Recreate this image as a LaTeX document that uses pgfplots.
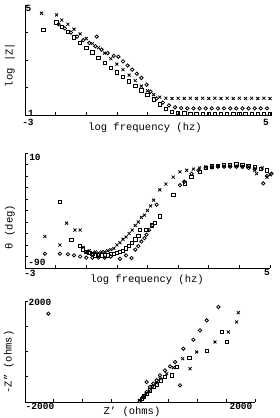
\documentclass[border=0pt]{standalone}
\usepackage{pgfplots}
\pgfplotsset{compat=1.18}
\usepackage{fontspec}
\setmainfont{Liberation Mono}
\newcommand{\lab}{\fontsize{10.5}{12}\selectfont}
\newcommand{\tl}{\fontsize{9.5}{11}\selectfont\bfseries}
\pgfplotsset{
  myax/.style={scale only axis, axis lines=left, axis line style={-, line width=0.8pt},
    tick align=inside, major tick length=3pt, tick style={line width=0.6pt, black},
    xticklabels={}, yticklabels={}, scaled ticks=false, clip=false, anchor=south west},
  sX/.style={only marks, mark=x, mark size=2.1pt, black, mark options={line width=0.8pt}},
  sO/.style={only marks, mark=o, mark size=1.7pt, black, mark options={line width=0.8pt}},
  sS/.style={only marks, mark=square, mark size=1.7pt, black, mark options={line width=0.8pt}},
}
\begin{document}
\begin{tikzpicture}
\useasboundingbox (0pt,0pt) rectangle (280pt,418pt);
% ---------- Panel 1: log |Z| ----------
\begin{axis}[myax, at={(25pt,303pt)}, width=245pt, height=110pt,
  xmin=-3, xmax=5, ymin=1, ymax=5, xtick={-3,...,5}, ytick={1,...,5}]
\addplot[sX] coordinates {(-2.46,4.70)(-1.97,4.64)(-1.8,4.45)(-1.6,4.3)(-1.4,4.12)(-1.2,3.95)(-1.0,3.78)(-0.8,3.6)(-0.6,3.45)(-0.4,3.25)(-0.2,3.05)(0,2.85)(0.2,2.65)(0.4,2.45)(0.6,2.25)(0.8,2.05)(1.0,1.88)(1.2,1.74)(1.4,1.65)(1.6,1.61)(1.8,1.6)(2.0,1.61)(2.2,1.6)(2.4,1.61)(2.6,1.6)(2.8,1.61)(3.0,1.6)(3.2,1.61)(3.4,1.6)(3.6,1.61)(3.8,1.6)(4.0,1.61)(4.2,1.6)(4.4,1.61)(4.6,1.6)(4.8,1.61)(5.0,1.6)};
\addplot[sO] coordinates {(-1.9,4.3)(-1.7,4.15)(-1.5,4.0)(-1.3,3.85)(-1.1,3.72)(-0.9,3.62)(-0.66,3.85)(-0.7,3.5)(-0.5,3.38)(-0.3,3.25)(-0.1,3.15)(0.05,3.12)(0.2,2.95)(0.35,2.8)(0.5,2.65)(0.65,2.5)(0.8,2.35)(0.97,2.1)(1.1,1.85)(1.3,1.6)(1.5,1.45)(1.7,1.35)(1.9,1.28)(2.1,1.25)(2.3,1.24)(2.5,1.24)(2.7,1.24)(2.9,1.24)(3.1,1.24)(3.3,1.24)(3.5,1.24)(3.7,1.24)(3.9,1.24)(4.1,1.24)(4.3,1.24)(4.5,1.24)(4.7,1.24)(4.9,1.24)};
\addplot[sS] coordinates {(-2.4,4.09)(-1.97,4.36)(-1.8,4.2)(-1.6,4.02)(-1.4,3.82)(-1.2,3.62)(-1.0,3.45)(-0.8,3.27)(-0.6,3.08)(-0.4,2.9)(-0.2,2.72)(0,2.55)(0.2,2.38)(0.4,2.22)(0.6,2.06)(0.8,1.9)(1.0,1.74)(1.2,1.56)(1.4,1.38)(1.6,1.22)(1.8,1.12)(2.0,1.08)(2.2,1.06)(2.4,1.05)(2.6,1.05)(2.8,1.05)(3.0,1.05)(3.2,1.05)(3.4,1.05)(3.6,1.05)(3.8,1.05)(4.0,1.05)(4.2,1.05)(4.4,1.05)(4.6,1.05)(4.8,1.05)(5.0,1.05)};
\end{axis}
% ---------- Panel 2: theta ----------
\begin{axis}[myax, at={(25pt,150pt)}, width=245pt, height=115pt,
  xmin=-3, xmax=5, ymin=-90, ymax=10, xtick={-3,...,5}, ytick={-90,-80,...,10}]
\addplot[sX] coordinates {(-2.35,-62.6)(-1.86,-70)(-1.64,-51)(-1.37,-57)(-1.2,-57)(-1.1,-72)(-1.0,-76)(-0.9,-75)(-0.8,-77)(-0.7,-76)(-0.6,-77)(-0.5,-76)(-0.4,-76)(-0.3,-75)(-0.2,-74)(-0.1,-73)(0.0,-70)(0.1,-68)(0.2,-65)(0.3,-63)(0.4,-60)(0.5,-57)(0.6,-53)(0.7,-50)(0.8,-46)(0.9,-44)(1.0,-40)(1.1,-36)(1.2,-31)(1.4,-22)(1.6,-17)(1.84,-11)(2.06,-6.4)(2.28,-5)(2.5,-4)(2.7,-3)(2.9,-2)(3.1,-2)(3.3,-1.5)(3.5,-1.5)(3.7,-1.5)(3.9,-1.5)(4.1,-2)(4.3,-2)(4.5,-5)(4.56,-8)(4.75,-3)(4.9,-11)(5.0,-9)};
\addplot[sS] coordinates {(-1.86,-32.4)(-1.48,-65.5)(-1.2,-70.7)(-1.1,-74)(-1.0,-76)(-0.9,-77)(-0.8,-78)(-0.7,-79)(-0.6,-79)(-0.5,-79)(-0.4,-79)(-0.3,-79)(-0.2,-78)(-0.1,-78)(0.0,-77)(0.1,-76)(0.2,-75)(0.3,-73)(0.4,-71)(0.5,-68)(0.6,-65)(0.7,-62)(0.76,-57)(0.97,-57)(1.14,-53)(1.24,-51)(1.41,-45)(1.84,-26.6)(2.22,-16.5)(2.44,-10.7)(2.71,-6.4)(2.9,-3)(3.1,-1.5)(3.3,-1)(3.5,-0.5)(3.7,-0.5)(3.9,0)(4.1,-0.5)(4.3,-1)(4.5,-2)(4.7,-4)(4.9,-5)};
\addplot[sO] coordinates {(-2.35,-77.6)(-1.86,-77.6)(-1.6,-78)(-1.4,-79)(-1.2,-80)(-1.0,-81)(-0.8,-81)(-0.6,-81)(-0.4,-81)(-0.2,-80)(0.1,-82)(0.3,-79)(0.48,-81.4)(0.6,-74)(0.7,-71)(0.8,-67)(0.9,-64)(0.97,-61)(1.05,-57)(1.15,-53)(1.3,-35)(2.06,-18)(2.2,-15)(2.44,-8)(2.66,-5)(2.9,-3)(3.1,-2.5)(3.3,-2)(3.5,-2)(3.7,-2)(3.9,-2)(4.1,-2)(4.3,-3)(4.5,-4)(4.78,-16.5)(4.9,-10)(5.05,-8)};
\end{axis}
% ---------- Panel 3: Nyquist ----------
\begin{axis}[myax, at={(25pt,16pt)}, width=230pt, height=101pt,
  xmin=-2000, xmax=2000, ymin=0, ymax=2000, xtick={-2000,-1500,...,2000}, ytick={0,500,...,2000}]
\addplot[sO] coordinates {(-1594,1749)(1362,1881)(1159,1617)(1043,1419)(928,1234)(754,1056)(696,330)(58,99)(116,198)(174,297)(232,363)(290,429)(348,528)(435,627)(522,706)(609,792)(116,396)};
\addplot[sS] coordinates {(1420,1386)(1507,1188)(1159,1010)(858,878)(0,20)(29,66)(70,112)(116,165)(174,231)(232,297)(290,350)(365,429)(435,495)(551,528)(638,693)};
\addplot[sX] coordinates {(1710,1769)(1681,1584)(1536,1386)(1304,1188)(986,990)(870,660)(742,858)(-12,33)(46,86)(104,152)(162,218)(220,284)(290,376)(348,462)(464,561)(580,680)};
\end{axis}
% ---------- text ----------
\node[font=\tl] at (28.5pt,410pt) {5};
\node[font=\tl] at (31pt,304.5pt) {1};
\node[font=\tl] at (28pt,295.5pt) {-3};
\node[font=\tl] at (266pt,296pt) {5};
\node[font=\lab] at (145pt,290pt) {log frequency (hz)};
\node[font=\lab, rotate=90] at (10pt,353pt) {log |Z|};
\node[font=\tl] at (35pt,261pt) {10};
\node[font=\tl] at (37pt,155.5pt) {-90};
\node[font=\tl] at (30pt,144.5pt) {-3};
\node[font=\tl] at (267pt,146pt) {5};
\node[font=\lab] at (147pt,138pt) {log frequency (hz)};
\node[font=\lab, rotate=90] at (10pt,191pt) {θ (deg)};
\node[font=\tl] at (40pt,115.5pt) {2000};
\node[font=\tl] at (40pt,12pt) {-2000};
\node[font=\tl] at (241pt,12pt) {2000};
\node[font=\lab] at (132pt,6pt) {Z' (ohms)};
\node[font=\lab, rotate=90] at (9pt,56pt) {-Z" (ohms)};
\end{tikzpicture}
\end{document}
